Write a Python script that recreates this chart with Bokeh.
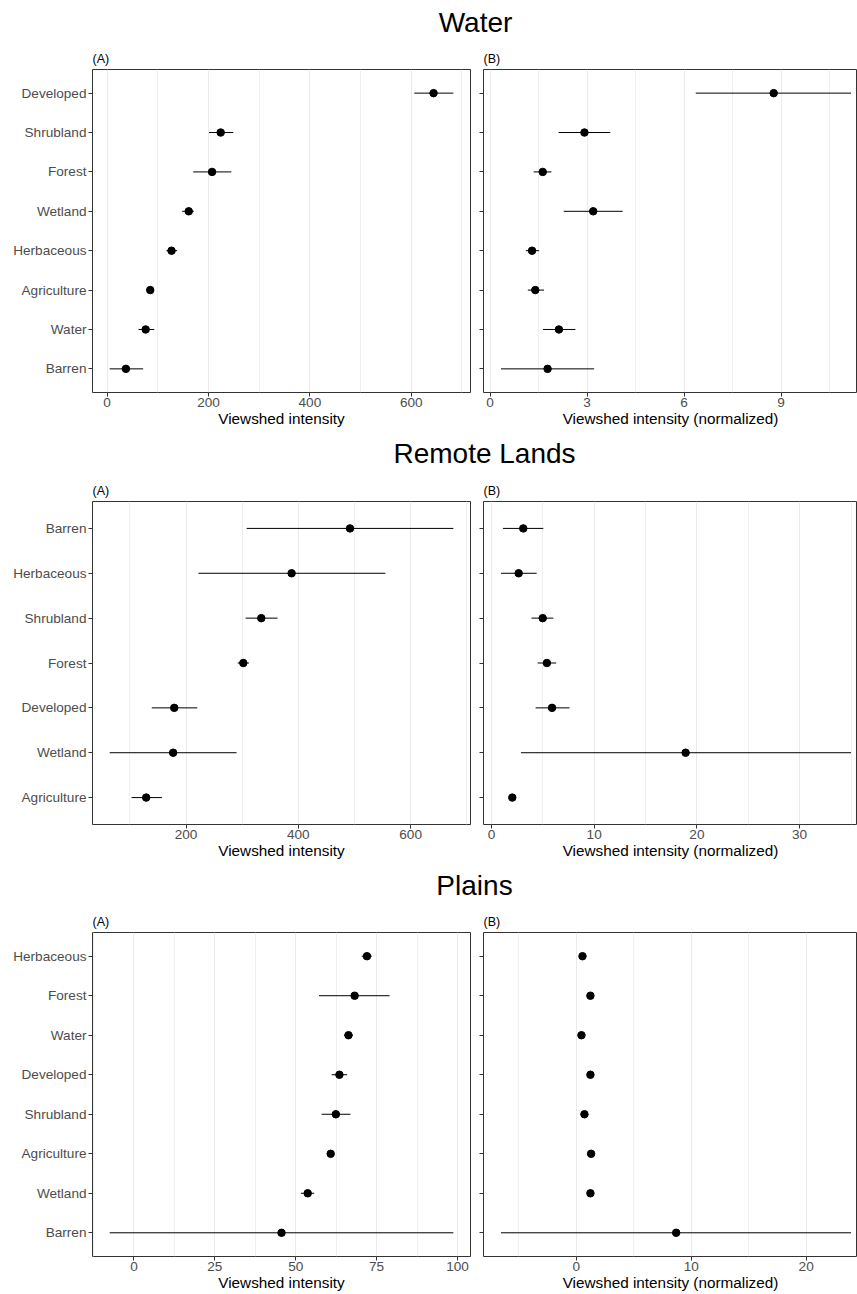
from bokeh.plotting import figure
from bokeh.layouts import column, row
from bokeh.models import Range1d, FixedTicker, ColumnDataSource
from bokeh.embed import file_html
from bokeh.resources import INLINE
from bokeh.core.properties import value

FONT = "Liberation Sans"

# ---------------- data ----------------
# Water (categories listed top to bottom)
water_categories = ["Developed", "Shrubland", "Forest", "Wetland", "Herbaceous", "Agriculture", "Water", "Barren"]
water_a_mean = [644, 224, 207, 161, 127, 85, 76, 37]
water_a_low = [606, 201, 170, 148, 117, 79, 62, 5]
water_a_high = [683, 249, 245, 171, 138, 91, 93, 71]
water_b_mean = [8.77, 2.92, 1.63, 3.19, 1.30, 1.40, 2.13, 1.78]
water_b_low = [6.36, 2.12, 1.35, 2.28, 1.11, 1.17, 1.64, 0.34]
water_b_high = [11.16, 3.72, 1.90, 4.10, 1.52, 1.67, 2.64, 3.22]
water_a_ticks = [0, 200, 400, 600]
water_a_minor = [-100, 100, 300, 500, 700]
water_b_ticks = [0, 3, 6, 9]
water_b_minor = [1.5, 4.5, 7.5, 10.5]

# Remote Lands
remote_categories = ["Barren", "Herbaceous", "Shrubland", "Forest", "Developed", "Wetland", "Agriculture"]
remote_a_mean = [492, 388, 334, 302, 179, 177, 129]
remote_a_low = [308, 222, 306, 292, 139, 64, 103]
remote_a_high = [676, 555, 363, 312, 220, 290, 157]
remote_b_mean = [3.10, 2.65, 4.99, 5.40, 5.90, 18.9, 2.03]
remote_b_low = [1.12, 0.93, 3.90, 4.50, 4.30, 2.87, 1.70]
remote_b_high = [5.05, 4.40, 6.02, 6.30, 7.60, 35.0, 2.35]
remote_a_ticks = [200, 400, 600]
remote_a_minor = [100, 300, 500, 700]
remote_b_ticks = [0, 10, 20, 30]
remote_b_minor = [5, 15, 25, 35]

# Plains
plains_categories = ["Herbaceous", "Forest", "Water", "Developed", "Shrubland", "Agriculture", "Wetland", "Barren"]
plains_a_mean = [72.0, 68.2, 66.3, 63.5, 62.4, 60.8, 53.7, 45.6]
plains_a_low = [70.4, 57.2, 64.9, 61.1, 58.0, 60.0, 51.6, -7.5]
plains_a_high = [73.5, 79.0, 67.7, 65.9, 66.9, 61.6, 55.7, 98.7]
plains_b_mean = [0.54, 1.23, 0.45, 1.23, 0.71, 1.29, 1.23, 8.69]
plains_b_low = [0.40, 1.10, 0.35, 1.10, 0.55, 1.15, 1.10, -6.55]
plains_b_high = [0.70, 1.35, 0.55, 1.35, 0.85, 1.40, 1.35, 23.9]
plains_a_ticks = [0, 25, 50, 75, 100]
plains_a_minor = [-12.5, 12.5, 37.5, 62.5, 87.5]
plains_b_ticks = [0, 10, 20]
plains_b_minor = [-5, 5, 15, 25]

titles = ["Water", "Remote Lands", "Plains"]
xlabel_a = "Viewshed intensity"
xlabel_b = "Viewshed intensity (normalized)"

# ---------------- layout constants ----------------
TOTAL_W = 857
A_W, A_LEFT, A_RIGHT = 475, 92, 5
B_W, B_LEFT, B_RIGHT = 382, 8, 0
B_CROP = 374.0 / 385.0  # right part of panel B is cut by the page edge


def title_fig(text, h, cx):
    t = figure(width=TOTAL_W, height=h, x_range=Range1d(0, TOTAL_W), y_range=Range1d(0, h),
               x_axis_type=None, y_axis_type=None, output_backend="svg",
               toolbar_location=None, min_border=0, outline_line_color=None)
    t.text(x=[cx], y=[h / 2.0], text=[text], text_align="center", text_baseline="middle",
           text_font=value(FONT), text_font_size="28px", text_color="black")
    return t


def panel(cats, mean, low, high, ticks, minor, tag, xlabel, is_a, height, top, crop=1.0):
    n = len(cats)
    ys = [n - i for i in range(n)]
    lo, hi = min(low), max(high)
    span = hi - lo
    start = lo - 0.05 * span
    end = hi + 0.05 * span
    end = start + (end - start) * crop
    if is_a:
        w, bl, br = A_W, A_LEFT, A_RIGHT
    else:
        w, bl, br = B_W, B_LEFT, B_RIGHT
    p = figure(width=w, height=height, x_range=Range1d(start, end), y_range=Range1d(0.4, n + 0.6),
               output_backend="svg", toolbar_location=None, title=tag,
               min_border_left=bl, min_border_right=br, min_border_top=top, min_border_bottom=38)
    src = ColumnDataSource(dict(y=ys, mean=mean, low=low, high=high))
    p.segment(x0="low", y0="y", x1="high", y1="y", source=src, line_color="black", line_width=1)
    p.scatter(x="mean", y="y", source=src, size=7.5, color="black")

    p.title.align = "left"
    p.title.text_font = FONT
    p.title.text_font_size = "12.5px"
    p.title.text_font_style = "normal"
    p.title.text_color = "black"
    p.title.standoff = 7
    p.title.offset = 0

    xt = FixedTicker(ticks=ticks, minor_ticks=minor)
    p.xaxis.ticker = xt
    p.xgrid.ticker = xt
    p.xaxis.axis_label = xlabel
    p.xaxis.axis_label_text_font = FONT
    p.xaxis.axis_label_text_font_size = "15.3px"
    p.xaxis.axis_label_text_font_style = "normal"
    p.xaxis.axis_label_text_color = "black"
    p.xaxis.axis_label_standoff = 0
    p.xaxis.major_label_standoff = 1

    p.yaxis.ticker = FixedTicker(ticks=ys)
    if is_a:
        p.yaxis.major_label_overrides = {y: c for y, c in zip(ys, cats)}
        p.yaxis.major_label_standoff = 2
    else:
        p.yaxis.major_label_overrides = {y: "" for y in ys}
        p.yaxis.major_label_standoff = 0

    p.axis.axis_line_color = None
    p.axis.major_tick_line_color = "#333333"
    p.axis.major_tick_out = 4
    p.axis.major_tick_in = 0
    p.axis.minor_tick_line_color = None
    p.axis.major_label_text_font = FONT
    p.axis.major_label_text_font_size = "13.6px"
    p.axis.major_label_text_color = "#4D4D4D"

    p.xgrid.grid_line_color = "#EBEBEB"
    p.xgrid.grid_line_width = 1
    p.xgrid.minor_grid_line_color = "#EFEFEF"
    p.xgrid.minor_grid_line_width = 1
    p.ygrid.grid_line_color = None

    p.outline_line_color = "#333333"
    p.outline_line_width = 1
    p.background_fill_color = "white"
    p.border_fill_color = "white"
    return p


rows = []
# Water
rows.append(title_fig(titles[0], 44, 475))
rows.append(row(
    panel(water_categories, water_a_mean, water_a_low, water_a_high, water_a_ticks, water_a_minor,
          "(A)", xlabel_a, True, 386, 25),
    panel(water_categories, water_b_mean, water_b_low, water_b_high, water_b_ticks, water_b_minor,
          "(B)", xlabel_b, False, 386, 25, B_CROP),
))
# Remote Lands
rows.append(title_fig(titles[1], 46, 484))
rows.append(row(
    panel(remote_categories, remote_a_mean, remote_a_low, remote_a_high, remote_a_ticks, remote_a_minor,
          "(A)", xlabel_a, True, 386, 25),
    panel(remote_categories, remote_b_mean, remote_b_low, remote_b_high, remote_b_ticks, remote_b_minor,
          "(B)", xlabel_b, False, 386, 25, B_CROP),
))
# Plains
rows.append(title_fig(titles[2], 46, 474))
rows.append(row(
    panel(plains_categories, plains_a_mean, plains_a_low, plains_a_high, plains_a_ticks, plains_a_minor,
          "(A)", xlabel_a, True, 386, 24),
    panel(plains_categories, plains_b_mean, plains_b_low, plains_b_high, plains_b_ticks, plains_b_minor,
          "(B)", xlabel_b, False, 386, 24, B_CROP),
))

layout = column(*rows)
open("out.html", "w").write(file_html(layout, INLINE))
